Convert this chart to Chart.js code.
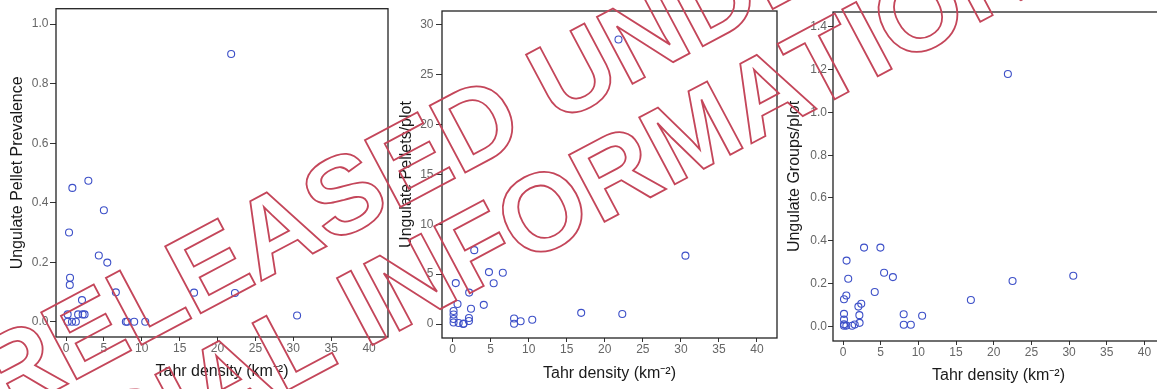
<!DOCTYPE html>
<html>
<head>
<meta charset="utf-8">
<script src="https://cdn.jsdelivr.net/npm/chart.js@4.4.1/dist/chart.umd.min.js"></script>
<style>
  html, body { margin:0; padding:0; background:#fff; width:1157px; height:389px; overflow:hidden; }
  .panel { position:absolute; top:0; width:400px; height:389px; }
  #wm { position:absolute; left:0; top:0; pointer-events:none; }
</style>
</head>
<body>
<div class="panel" style="left:0px"><canvas id="c1" width="400" height="389"></canvas></div>
<div class="panel" style="left:392px"><canvas id="c2" width="400" height="389"></canvas></div>
<div class="panel" style="left:783px"><canvas id="c3" width="400" height="389"></canvas></div>
<svg id="wm" width="1157" height="389">
  <g font-family="Liberation Sans, Arial, sans-serif" font-weight="bold" font-size="110" fill="none" stroke="#c4465a" stroke-width="1.8">
    <text transform="translate(0,420) rotate(-28)">RELEASED UNDER THE</text>
    <text transform="translate(-107,600) rotate(-28)">OFFICIAL INFORMATION ACT</text>
  </g>
</svg>
<script>
// ---- data ----
const xTitle = 'Tahr density (km\u207B\u00B2)';
const xTicks = [0, 5, 10, 15, 20, 25, 30, 35, 40];

const prevTitle = 'Ungulate Pellet Prevalence';
const prevX = [21.8, 2.95, 0.84, 5.0, 0.4, 4.33, 5.45, 0.53, 0.5, 6.58, 2.11, 16.9, 22.3, 30.5, 0.22, 1.6, 2.2, 2.45, 0.22, 0.79, 1.3, 7.9, 8.1, 9.0, 10.46];
const prevY = [0.90, 0.474, 0.45, 0.375, 0.30, 0.223, 0.199, 0.148, 0.124, 0.099, 0.073, 0.098, 0.097, 0.021, 0.025, 0.025, 0.025, 0.025, 0, 0, 0, 0, 0, 0, 0];
const prevTicks = [0.0, 0.2, 0.4, 0.6, 0.8, 1.0];

const pelTitle = 'Ungulate Pellets/plot';
const pelX = [21.8, 2.85, 30.6, 4.78, 6.6, 5.4, 0.42, 2.18, 0.65, 4.1, 2.42, 0.13, 0.13, 0.13, 0.13, 16.9, 22.3, 8.08, 10.47, 8.94, 8.08, 2.15, 2.15, 0.8, 1.45, 1.4];
const pelY = [28.5, 7.4, 6.85, 5.2, 5.13, 4.08, 4.1, 3.15, 2.0, 1.92, 1.53, 1.3, 0.95, 0.5, 0.15, 1.12, 1.0, 0.55, 0.43, 0.28, 0.03, 0.6, 0.3, 0.1, 0.05, 0.0];
const pelTicks = [0, 5, 10, 15, 20, 25, 30];

const grpTitle = 'Ungulate Groups/plot';
const grpX = [21.88, 2.79, 4.96, 0.47, 0.69, 5.45, 6.62, 4.21, 0.44, 0.13, 2.04, 2.42, 16.97, 22.5, 30.56, 8.05, 10.5, 8.06, 9.0, 0.13, 2.17, 0.13, 0.13, 2.2, 1.55, 1.2, 0.44, 0.13];
const grpY = [1.18, 0.368, 0.368, 0.307, 0.222, 0.25, 0.23, 0.16, 0.144, 0.126, 0.092, 0.105, 0.123, 0.212, 0.236, 0.056, 0.049, 0.007, 0.007, 0.058, 0.052, 0.031, 0.009, 0.016, 0.008, 0.002, 0.003, 0.002];
const grpTicks = [0.0, 0.2, 0.4, 0.6, 0.8, 1.0, 1.2, 1.4];

// ---- drawing ----
const FONT = 'Liberation Sans, Arial, sans-serif';
const framePlugin = {
  id: 'frame',
  afterDatasetsDraw(chart) {
    const {ctx, chartArea: a} = chart;
    ctx.save();
    ctx.strokeStyle = '#222';
    ctx.lineWidth = 1.3;
    ctx.strokeRect(a.left, a.top, a.right - a.left, a.bottom - a.top);
    ctx.restore();
  }
};

function makeChart(id, xs, ys, cfg) {
  const pts = xs.map((x, i) => ({x: x, y: ys[i]}));
  const tickVals = cfg.yTicks;
  return new Chart(document.getElementById(id), {
    type: 'scatter',
    data: { datasets: [{
      data: pts,
      pointStyle: 'circle',
      pointRadius: 3.5,
      pointBorderWidth: 1.1,
      borderColor: '#3d50c8',
      backgroundColor: 'rgba(0,0,0,0)',
      pointBackgroundColor: 'rgba(0,0,0,0)'
    }]},
    options: {
      responsive: false,
      animation: false,
      events: [],
      layout: { padding: cfg.pad },
      plugins: { legend: {display: false}, tooltip: {enabled: false} },
      scales: {
        x: {
          type: 'linear', min: cfg.xMin, max: cfg.xMax,
          afterFit(s) { s.height = cfg.xAxisH; },
          afterBuildTicks(s) { s.ticks = xTicks.map(v => ({value: v})); },
          ticks: { autoSkip: false, maxRotation: 0, color: '#666', padding: 0,
                   font: {family: FONT, size: 12} },
          grid: { drawOnChartArea: false, drawTicks: true, tickLength: 4, color: '#333' },
          border: { display: false },
          title: { display: true, text: xTitle, color: '#1a1a1a',
                   font: {family: FONT, size: 16}, padding: {top: 0, bottom: cfg.xTitlePad} }
        },
        y: {
          type: 'linear', min: cfg.yMin, max: cfg.yMax,
          afterFit(s) { s.width = cfg.yAxisW; },
          afterBuildTicks(s) { s.ticks = tickVals.map(v => ({value: v})); },
          ticks: { autoSkip: false, color: '#666', padding: cfg.yTickPad,
                   font: {family: FONT, size: 12},
                   callback: v => cfg.yDec ? v.toFixed(cfg.yDec) : String(v) },
          grid: { drawOnChartArea: false, drawTicks: true, tickLength: cfg.yTickLen, color: '#333' },
          border: { display: false },
          title: { display: true, text: cfg.yTitle, color: '#1a1a1a',
                   font: {family: FONT, size: 16}, padding: {top: cfg.yTitlePad, bottom: 0} }
        }
      }
    },
    plugins: [framePlugin]
  });
}

makeChart('c1', prevX, prevY, {
  xMin: -1.32, xMax: 42.5, yMin: -0.051, yMax: 1.052, yTicks: prevTicks, yDec: 1,
  pad: {left: 0, right: 12, top: 7, bottom: 0}, xAxisH: 52, yAxisW: 56,
  xTitlePad: 7.5, yTitlePad: 8, yTickPad: 1.5, yTickLen: 6, yTitle: prevTitle
});
makeChart('c2', pelX, pelY, {
  xMin: -1.39, xMax: 42.63, yMin: -1.4, yMax: 31.36, yTicks: pelTicks, yDec: 0,
  pad: {left: 0, right: 15, top: 11, bottom: 0}, xAxisH: 51, yAxisW: 50,
  xTitlePad: 5.4, yTitlePad: 5, yTickPad: 2.5, yTickLen: 6, yTitle: pelTitle
});
makeChart('c3', grpX, grpY, {
  xMin: -1.33, xMax: 42.6, yMin: -0.069, yMax: 1.47, yTicks: grpTicks, yDec: 1,
  pad: {left: 0, right: 19, top: 12, bottom: 0}, xAxisH: 48, yAxisW: 50,
  xTitlePad: 3.4, yTitlePad: 2.4, yTickPad: 1, yTickLen: 5, yTitle: grpTitle
});
</script>
</body>
</html>
